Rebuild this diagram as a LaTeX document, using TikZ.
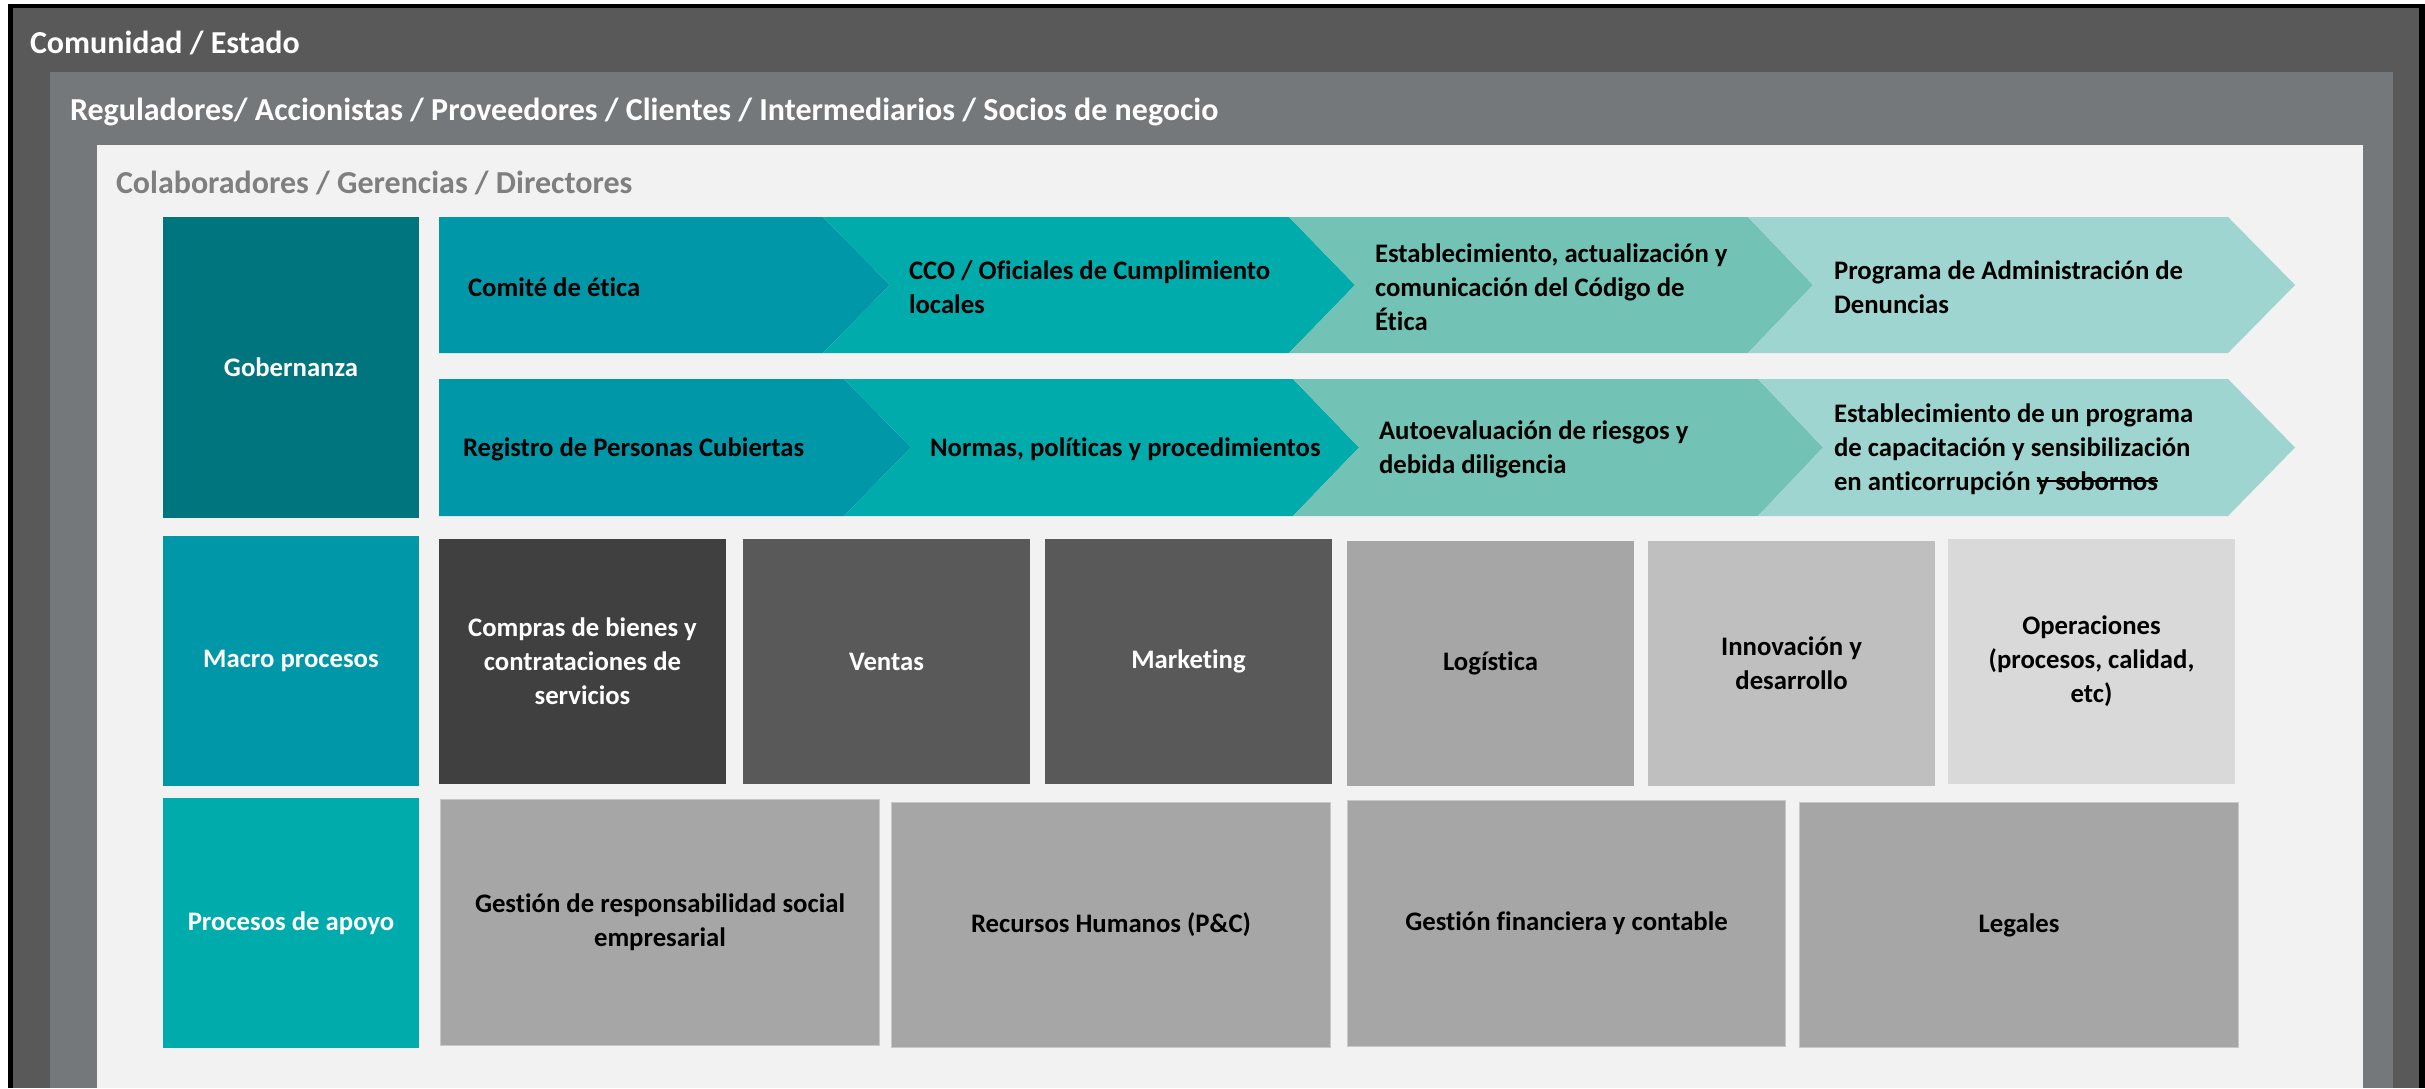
\documentclass[tikz,border=0pt]{standalone}
\usepackage{fontspec}
\setmainfont[Ligatures=NoCommon]{Carlito}
\newcommand\tachar[1]{\setbox0\hbox{#1}\rlap{\rule[0.3em]{\wd0}{0.08em}}\box0}
\definecolor{marco}{HTML}{595959}
\definecolor{grisM}{HTML}{75787B}
\definecolor{fondo}{HTML}{F2F2F2}
\definecolor{tGob}{HTML}{00757D}
\definecolor{tMac}{HTML}{0098A8}
\definecolor{tApo}{HTML}{00ABAB}
\definecolor{tVer}{HTML}{72C3B5}
\definecolor{tCla}{HTML}{9FD5D0}
\definecolor{gA}{HTML}{404040}
\definecolor{gB}{HTML}{595959}
\definecolor{gC}{HTML}{A6A6A6}
\definecolor{gD}{HTML}{BFBFBF}
\definecolor{gE}{HTML}{D9D9D9}
\definecolor{txtG}{HTML}{7F7F7F}
\begin{document}
\begin{tikzpicture}[x=0.01cm, y=-0.01cm]
\tikzset{ inner sep=0pt, outer sep=0pt,
  hdr/.style={anchor=base west, font=\fontsize{9.1}{11}\selectfont\bfseries},
  lbl/.style={font=\fontsize{7.6}{9.7}\selectfont\bfseries, align=center},
  col/.style={lbl, text=white, minimum width=2.56cm},
  mac/.style={lbl, minimum width=2.87cm, minimum height=2.45cm},
  apo/.style={lbl, fill=gC, draw=black!22, line width=0.3pt,
              minimum width=4.38cm, minimum height=2.45cm},
  chv/.style={lbl, anchor=west, align=left},
}
%\draw [lightgray, dashed] (0,0) grid[step=100] (2425,1088);

% marcos
\fill [white] (0,0) rectangle (2425,1088);
\fill [black] (8,4) rectangle (2425,1088);
\fill [marco] (13,8) rectangle (2419,1088);
\fill [grisM] (50,72) rectangle (2393,1088);
\fill [fondo] (97,145) rectangle (2363,1088);

\node [hdr, text=white] (COM) at (30,54) {Comunidad / Estado};
\node [hdr, text=white] (REG) at (70,121) {Reguladores/ Accionistas / Proveedores / Clientes / Intermediarios / Socios de negocio};
\node [hdr, text=txtG] (COL) at (116,194) {Colaboradores / Gerencias / Directores};

% columna izquierda
\node [col, fill=tGob, minimum height=3.01cm] (GOB) at (291,367.5) {Gobernanza};
\node [col, fill=tMac, minimum height=2.50cm] (MAC) at (291,661) {Macro procesos};
\node [col, fill=tApo, minimum height=2.50cm] (APO) at (291,923) {Procesos de apoyo};

% flechas fila 1
\fill [tMac] (439,217) -- (823,217) -- (890,285) -- (823,353) -- (439,353) -- cycle;
\fill [tApo] (823,217) -- (1289,217) -- (1355,285) -- (1289,353) -- (823,353) -- (890,285) -- cycle;
\fill [tVer] (1289,217) -- (1748,217) -- (1813,285) -- (1748,353) -- (1289,353) -- (1355,285) -- cycle;
\fill [tCla] (1748,217) -- (2228,217) -- (2295,285) -- (2228,353) -- (1748,353) -- (1813,285) -- cycle;

% flechas fila 2
\fill [tMac] (439,379) -- (844,379) -- (911,447.5) -- (844,516) -- (439,516) -- cycle;
\fill [tApo] (844,379) -- (1293,379) -- (1359,447.5) -- (1293,516) -- (844,516) -- (911,447.5) -- cycle;
\fill [tVer] (1293,379) -- (1758,379) -- (1823,447.5) -- (1758,516) -- (1293,516) -- (1359,447.5) -- cycle;
\fill [tCla] (1758,379) -- (2228,379) -- (2295,447.5) -- (2228,516) -- (1758,516) -- (1823,447.5) -- cycle;

\node [chv] (CE)  at (468,287)  {Comité de ética};
\node [chv] (CCO) at (909,287)  {CCO / Oficiales de Cumplimiento\\locales};
\node [chv] (EST) at (1375,287) {Establecimiento, actualización y\\comunicación del Código de\\Ética};
\node [chv] (PAD) at (1834,287) {Programa de Administración de\\Denuncias};

\node [chv] (RPC) at (463,449)  {Registro de Personas Cubiertas};
\node [chv] (NPP) at (930,449)  {Normas, políticas y procedimientos};
\node [chv] (AUT) at (1379,449) {Autoevaluación de riesgos y\\debida diligencia};
\node [chv] (CAP) at (1834,449) {Establecimiento de un programa\\de capacitación y sensibilización\\en anticorrupción \tachar{y sobornos}};

% macro procesos
\node [mac, fill=gA, text=white] (COMP) at (582.5,661.5)  {Compras de bienes y\\contrataciones de\\servicios};
\node [mac, fill=gB, text=white] (VEN)  at (886.5,661.5)  {Ventas};
\node [mac, fill=gB, text=white] (MKT)  at (1188.5,661.5) {Marketing};
\node [mac, fill=gC] (LOG) at (1490.5,663.5) {Logística};
\node [mac, fill=gD] (INN) at (1791.5,663.5) {Innovación y\\desarrollo};
\node [mac, fill=gE] (OPE) at (2091.5,661.5) {Operaciones\\(procesos, calidad,\\etc)};

% procesos de apoyo
\node [apo] (RSE) at (660,922.5)   {Gestión de responsabilidad social\\empresarial};
\node [apo] (RRHH) at (1111,925)   {Recursos Humanos (P\&C)};
\node [apo] (FIN) at (1566.5,923.5) {Gestión financiera y contable};
\node [apo] (LEG) at (2019,925)    {Legales};

\end{tikzpicture}
\end{document}
